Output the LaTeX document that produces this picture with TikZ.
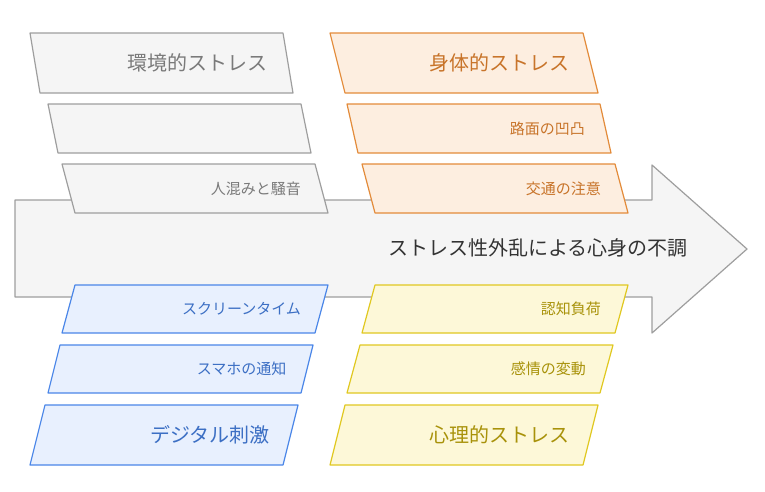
\documentclass[tikz,border=0pt]{standalone}
\usepackage{fontspec}
\setmainfont{Noto Sans CJK JP}
\definecolor{grayline}{HTML}{9E9E9E}\definecolor{grayfill}{HTML}{F5F5F5}\definecolor{graytext}{HTML}{7A7A7A}
\definecolor{orgline}{HTML}{E38B3A}\definecolor{orgfill}{HTML}{FDEEE0}\definecolor{orgtext}{HTML}{C8742A}
\definecolor{blueline}{HTML}{4A86E8}\definecolor{bluefill}{HTML}{E8F0FE}\definecolor{bluetext}{HTML}{3C6FC4}
\definecolor{yelline}{HTML}{E0C820}\definecolor{yelfill}{HTML}{FDF8D8}\definecolor{yeltext}{HTML}{A8920A}
% #1 name, #2 top y, #3 bottom y, #4 top-left x, #5 bottom-left x, #6 colour prefix, #7 font size, #8 text
\newcommand{\slantbox}[8]{%
	\draw[#6line, fill=#6fill, line width=1.2pt, line join=round]
		(#4,#2) -- ++(253,0) -- (#5+253,#3) -- (#5,#3) -- cycle;
	\node (#1) [anchor=east, text=#6text, font=\fontsize{#7}{#7}\selectfont]
		at ({(#4+#5)/2+253-17},{(#2+#3)/2}) {#8};
}
\begin{document}
\begin{tikzpicture}[x=1pt, y=-1pt]
	\useasboundingbox (0,0) rectangle (765,491);
	% main arrow
	\draw[grayline, fill=grayfill, line width=1.2pt, line join=round]
		(15,200) -- (652,200) -- (652,165) -- (747,249) -- (652,333) -- (652,297) -- (15,297) -- cycle;
	\node (arrowlabel) [font=\fontsize{20}{20}\selectfont, text=black!80] at (538,248) {ストレス性外乱による心身の不調};
	% upper left
	\slantbox{env}{33}{93}{30}{40}{gray}{20}{環境的ストレス}
	\slantbox{envb}{104}{153}{48}{58}{gray}{15}{}
	\slantbox{crowd}{164}{213}{62}{75}{gray}{15}{人混みと騒音}
	% upper right
	\slantbox{body}{33}{93}{330}{345}{org}{20}{身体的ストレス}
	\slantbox{road}{104}{153}{347}{358}{org}{15}{路面の凹凸}
	\slantbox{traffic}{164}{213}{362}{375}{org}{15}{交通の注意}
	% lower left
	\slantbox{screen}{285}{333}{75}{62}{blue}{15}{スクリーンタイム}
	\slantbox{phone}{345}{393}{60}{48}{blue}{15}{スマホの通知}
	\slantbox{digital}{405}{465}{45}{30}{blue}{20}{デジタル刺激}
	% lower right
	\slantbox{load}{285}{333}{375}{362}{yel}{15}{認知負荷}
	\slantbox{emotion}{345}{393}{360}{347}{yel}{15}{感情の変動}
	\slantbox{mind}{405}{465}{345}{330}{yel}{20}{心理的ストレス}
\end{tikzpicture}
\end{document}
